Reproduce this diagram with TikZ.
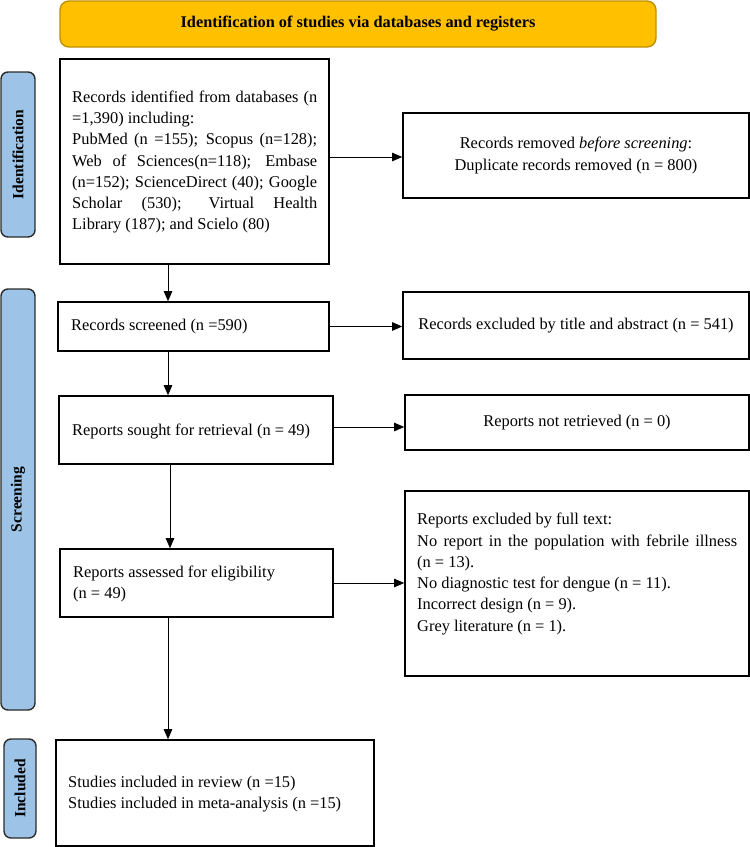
\documentclass[tikz,border=0pt]{standalone}
\usepackage{fontspec}
\setmainfont{Liberation Serif}
\usetikzlibrary{arrows.meta}
\definecolor{titlefill}{HTML}{FFC000}
\definecolor{titledraw}{HTML}{BF9000}
\definecolor{sidefill}{HTML}{9DC3E6}
\definecolor{sidedraw}{HTML}{2B2B2B}
\begin{document}
\begin{tikzpicture}[x=1pt,y=-1pt,
  box/.style={draw=black,line width=1.6pt,rectangle,inner sep=0pt,fill=white},
  txt/.style={font=\fontsize{16.4}{21.3}\selectfont,inner sep=0pt},
  side/.style={draw=sidedraw,fill=sidefill,line width=1.4pt,rounded corners=7pt,inner sep=0pt},
  sidetxt/.style={font=\fontsize{15.5}{18}\selectfont\bfseries,rotate=90,inner sep=0pt},
  arr/.style={line width=0.8pt,-{Triangle[length=10pt,width=8.5pt]}}]
\useasboundingbox (0,0) rectangle (750,847);
% title
\node[draw=titledraw,fill=titlefill,line width=1.4pt,rounded corners=9pt,minimum width=596,minimum height=46,inner sep=0pt,
  font=\fontsize{16.3}{20}\selectfont\bfseries] (title) at (358,24) {Identification of studies via databases and registers};
% side labels
\node[side,minimum width=34,minimum height=165] (sid) at (18,154.5) {};
\node[sidetxt] (sidt) at (sid.center) {Identification};
\node[side,minimum width=34,minimum height=421] (sscr) at (18,499.5) {};
\node[sidetxt] (sscrt) at (sscr.center) {Screening};
\node[side,minimum width=32,minimum height=99] (sinc) at (20,788.5) {};
\node[sidetxt] (sinct) at (sinc.center) {Included};
% boxes
\node[box,minimum width=269,minimum height=205] (b1) at (194.5,161.5) {};
\node[txt,text width=245,align=justify,anchor=west] (b1t) at (72,162) {\hyphenpenalty=10000
Records identified from databases (n\linebreak =1,390) including:\\
PubMed (n =155); Scopus (n=128);\linebreak Web of Sciences(n=118); Embase\linebreak (n=152); ScienceDirect (40); Google\linebreak Scholar (530); Virtual Health\linebreak Library (187); and Scielo (80)};
\node[box,minimum width=346,minimum height=85] (b2) at (576,155.5) {};
\node[txt,align=center] (b2t) at (b2.center) {Records removed \textit{before screening}:\\Duplicate records removed (n = 800)};
\node[box,minimum width=271,minimum height=49] (b3) at (193.5,326.5) {};
\node[txt,anchor=west] (b3t) at (71,327) {Records screened (n =590)};
\node[box,minimum width=346,minimum height=67] (b4) at (576,325.5) {};
\node[txt] (b4t) at (b4.center) {Records excluded by title and abstract (n = 541)};
\node[box,minimum width=274,minimum height=68] (b5) at (196,430) {};
\node[txt,anchor=west] (b5t) at (72,431) {Reports sought for retrieval (n = 49)};
\node[box,minimum width=344,minimum height=55] (b6) at (577,422.5) {};
\node[txt] (b6t) at (b6.center) {Reports not retrieved (n = 0)};
\node[box,minimum width=273,minimum height=68] (b7) at (196.5,583) {};
\node[txt,anchor=west,align=left] (b7t) at (73,584) {Reports assessed for eligibility\\(n = 49)};
\node[box,minimum width=344,minimum height=185] (b8) at (577,583.5) {};
\node[txt,text width=320,align=justify,anchor=west] (b8t) at (417,574) {\hyphenpenalty=10000
Reports excluded by full text:\\
No report in the population with febrile illness\linebreak (n = 13).\\
No diagnostic test for dengue (n = 11).\\
Incorrect design (n = 9).\\
Grey literature (n = 1).};
\node[box,minimum width=318,minimum height=106] (b9) at (215,793) {};
\node[txt,anchor=west,align=left] (b9t) at (68,794) {Studies included in review (n =15)\\Studies included in meta-analysis (n =15)};
% connectors
\coordinate (cola) at (168,0);
\coordinate (colb) at (170,0);
\coordinate (r1) at (0,157);
\coordinate (r3) at (0,427);
\draw[arr] (b1.east |- r1) -- (b2.west |- r1);
\draw[arr] (b3.east) -- (b3.east -| b4.west);
\draw[arr] (b5.east |- r3) -- (b6.west |- r3);
\draw[arr] (b7.east) -- (b7.east -| b8.west);
\draw[arr] (b1.south -| cola) -- (b3.north -| cola);
\draw[arr] (b3.south -| cola) -- (b5.north -| cola);
\draw[arr] (b5.south -| colb) -- (b7.north -| colb);
\draw[arr] (b7.south -| cola) -- (b9.north -| cola);
\end{tikzpicture}
\end{document}
